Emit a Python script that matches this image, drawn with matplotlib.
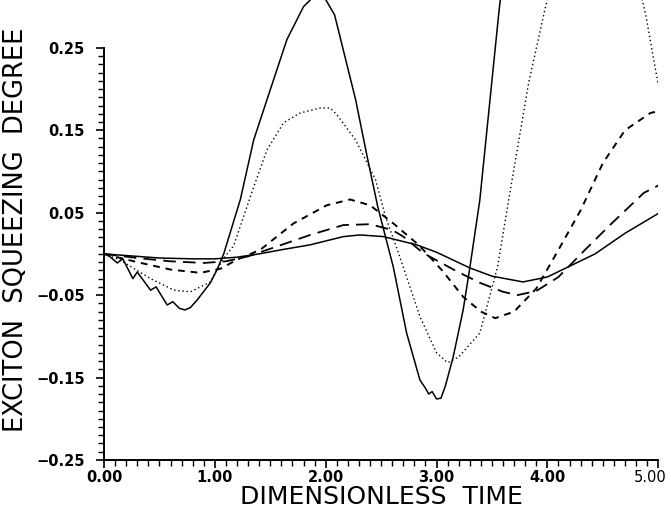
import numpy as np
import matplotlib
matplotlib.use("Agg")
import matplotlib.pyplot as plt
import matplotlib.transforms as mtransforms
from matplotlib.ticker import MultipleLocator, FixedLocator, FuncFormatter

# curve a: smallest amplitude, solid
t_a = [0.0, 0.2, 0.5, 0.8, 1.0, 1.2, 1.4, 1.6, 1.86, 2.16, 2.31, 2.52, 2.82,
       3.0, 3.3, 3.5, 3.78, 4.0, 4.23, 4.43, 4.7, 4.95, 5.0]
v_a = [0.0, -0.002, -0.005, -0.006, -0.006, -0.004, 0.0, 0.005, 0.011, 0.021,
       0.023, 0.021, 0.011, 0.002, -0.017, -0.027, -0.034, -0.028, -0.013,
       0.0, 0.025, 0.045, 0.049]

# curve b: long dashes
t_b = [0.0, 0.3, 0.6, 0.9, 1.1, 1.3, 1.56, 1.86, 2.16, 2.4, 2.6, 2.7, 2.88,
       3.18, 3.39, 3.6, 3.73, 3.9, 4.1, 4.34, 4.58, 4.87, 5.0]
v_b = [0.0, -0.005, -0.009, -0.011, -0.009, -0.003, 0.009, 0.023, 0.035,
       0.036, 0.029, 0.021, 0.001, -0.021, -0.035, -0.046, -0.05, -0.045,
       -0.028, 0.005, 0.037, 0.074, 0.083]

# curve c: medium dashes
t_c = [0.0, 0.3, 0.6, 0.87, 1.05, 1.2, 1.41, 1.71, 2.01, 2.22, 2.4, 2.61, 2.82,
       2.88, 3.05, 3.24, 3.4, 3.53, 3.7, 3.9, 4.1, 4.3, 4.5, 4.7, 4.93, 5.0]
v_c = [0.0, -0.01, -0.019, -0.023, -0.018, -0.007, 0.005, 0.037, 0.059, 0.066,
       0.059, 0.037, 0.013, 0.005, -0.02, -0.052, -0.07, -0.078, -0.07, -0.042,
       0.005, 0.053, 0.11, 0.15, 0.171, 0.173]

# curve d: dotted
t_d = [0.0, 0.14, 0.42, 0.63, 0.78, 0.96, 1.07, 1.17, 1.35, 1.47, 1.62, 1.77,
       1.95, 2.04, 2.1, 2.27, 2.45, 2.54, 2.67, 2.85, 3.0, 3.1, 3.2, 3.39, 3.55,
       3.65, 3.83, 3.98, 4.2, 4.45, 4.7, 4.89, 5.0]
v_d = [0.0, -0.007, -0.03, -0.044, -0.046, -0.034, -0.007, 0.01, 0.081, 0.126,
       0.159, 0.171, 0.177, 0.177, 0.169, 0.138, 0.09, 0.045, -0.004, -0.076,
       -0.12, -0.132, -0.125, -0.096, -0.016, 0.065, 0.207, 0.298, 0.42, 0.48,
       0.4, 0.288, 0.205]

# curve e: largest amplitude, solid
t_e = [0.0, 0.05, 0.12, 0.17, 0.26, 0.3, 0.42, 0.47, 0.57, 0.62, 0.68, 0.73,
       0.78, 0.84, 0.96, 1.02, 1.08, 1.23, 1.35, 1.47, 1.65, 1.8, 1.95, 2.08,
       2.27, 2.38, 2.47, 2.61, 2.73, 2.85, 2.9, 2.93, 2.96, 3.0, 3.04, 3.08,
       3.15, 3.24, 3.3, 3.39, 3.56, 3.65]
v_e = [0.0, -0.003, -0.011, -0.006, -0.03, -0.022, -0.044, -0.04, -0.062,
       -0.058, -0.066, -0.068, -0.065, -0.056, -0.035, -0.019, 0.0, 0.066,
       0.138, 0.187, 0.26, 0.3, 0.32, 0.29, 0.187, 0.114, 0.057, -0.016,
       -0.096, -0.153, -0.163, -0.17, -0.167, -0.176, -0.175, -0.16, -0.125,
       -0.068, -0.017, 0.065, 0.29, 0.4]

y_ticks = [-0.25, -0.15, -0.05, 0.05, 0.15, 0.25]
x_ticks = [0, 1, 2, 3, 4, 5]

fig = plt.figure(figsize=(6.71, 5.12), dpi=100)
ax = fig.add_axes([0.155, 0.1016, 0.826, 0.8984])

ax.plot(t_a, v_a, color="black", lw=1.1)
ax.plot(t_b, v_b, color="black", lw=1.3, linestyle=(0, (7, 4)))
ax.plot(t_c, v_c, color="black", lw=1.4, linestyle=(0, (3.5, 3)))
ax.plot(t_d, v_d, color="black", lw=1.0, linestyle=(0, (1, 2)))
ax.plot(t_e, v_e, color="black", lw=1.1)

ax.set_xlim(0, 5.0)
ax.set_ylim(-0.25, 0.308)
ax.spines["top"].set_visible(False)
ax.spines["right"].set_visible(False)
ax.spines["left"].set_bounds(-0.25, 0.25)
ax.spines["left"].set_linewidth(1.4)
ax.spines["bottom"].set_linewidth(1.4)

ax.yaxis.set_major_locator(FixedLocator(y_ticks))
ax.yaxis.set_minor_locator(FixedLocator(np.arange(-25, 26) / 100.0))
ax.xaxis.set_major_locator(FixedLocator(x_ticks))
ax.xaxis.set_minor_locator(MultipleLocator(0.1))
ax.xaxis.set_major_formatter(FuncFormatter(lambda v, p: "%.2f" % v))
ax.yaxis.set_major_formatter(
    FuncFormatter(lambda v, p: ("%.2f" % v).replace("-", "\u2212")))

ax.tick_params(axis="both", which="major", direction="out", length=6,
               width=1.2, labelsize=10.5)
ax.tick_params(axis="both", which="minor", direction="out", length=4,
               width=1.0)
ax.tick_params(axis="x", pad=1)
ax.tick_params(axis="y", pad=8)
for lab in ax.get_xticklabels() + ax.get_yticklabels():
    lab.set_fontweight("bold")

fig.canvas.draw()
last = ax.get_xticklabels()[-1]
last.set_fontweight("normal")
last.set_transform(last.get_transform() +
                   mtransforms.ScaledTranslation(-8 / 100, 0, fig.dpi_scale_trans))

ax.set_xlabel("DIMENSIONLESS  TIME", fontsize=18, labelpad=0)
ax.set_ylabel("EXCITON  SQUEEZING  DEGREE", fontsize=18.5)
ax.yaxis.set_label_coords(-0.135, 0.5)

fig.savefig("out.png", dpi=100)
